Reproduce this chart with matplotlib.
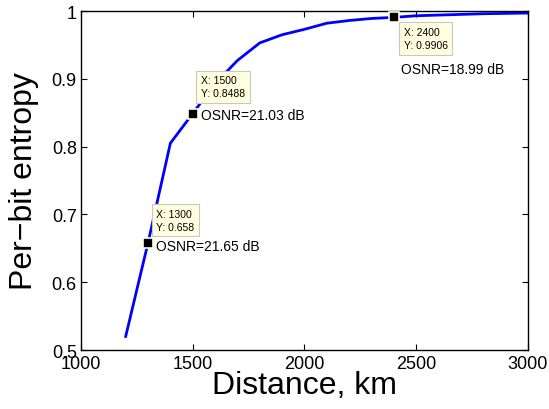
import matplotlib
matplotlib.use("Agg")
import matplotlib.pyplot as plt

distance_km = [1200, 1300, 1400, 1500, 1600, 1700, 1800, 1900, 2000, 2100,
               2200, 2300, 2400, 2500, 2600, 2700, 2800, 2900, 3000]
entropy = [0.520, 0.658, 0.805, 0.8488, 0.893, 0.927, 0.953, 0.965, 0.973, 0.982,
           0.986, 0.989, 0.9906, 0.993, 0.994, 0.995, 0.996, 0.9965, 0.997]

tip_x = [1300, 1500, 2400]
tip_y = [0.658, 0.8488, 0.9906]
tip_labels = ["X: 1300\nY: 0.658", "X: 1500\nY: 0.8488", "X: 2400\nY: 0.9906"]
osnr_labels = ["OSNR=21.65 dB", "OSNR=21.03 dB", "OSNR=18.99 dB"]

x_ticks = [1000, 1500, 2000, 2500, 3000]
y_ticks = [0.5, 0.6, 0.7, 0.8, 0.9, 1.0]
y_ticklabels = ["0.5", "0.6", "0.7", "0.8", "0.9", "1"]

plt.rcParams['font.family'] = ['Liberation Sans', 'DejaVu Sans']

fig = plt.figure(figsize=(5.49, 4.10), dpi=100)
ax = fig.add_axes([0.1475, 0.1439, 0.9617 - 0.1475, 0.9707 - 0.1439])

ax.plot(distance_km, entropy, color='#0000ff', lw=2.0, zorder=2)
ax.set_xlim(1000, 3000)
ax.set_ylim(0.5, 1.0)
ax.set_xticks(x_ticks)
ax.set_yticks(y_ticks)
ax.set_yticklabels(y_ticklabels)
ax.tick_params(direction='in', top=True, right=True, length=4, width=0.8,
               labelsize=13)
ax.tick_params(axis='x', pad=3.5)
ax.tick_params(axis='y', pad=3)
for s in ax.spines.values():
    s.set_linewidth(1.0)

ax.set_xlabel("Distance, km", fontsize=23, labelpad=-1)
ax.set_ylabel("Per\u2212bit entropy", fontsize=23, labelpad=9)

# data tip markers
ax.plot(tip_x, tip_y, linestyle='none', marker='s', markersize=6.5,
        markerfacecolor='black', markeredgecolor='#ffffe0', markeredgewidth=1.2,
        zorder=5)

# offsets in points (x, y) for datatip boxes
tip_offsets = [(6, 8), (6, 11), (7, -7)]
tip_va = ['bottom', 'bottom', 'top']
for x, y, lab, off, va in zip(tip_x, tip_y, tip_labels, tip_offsets, tip_va):
    ax.annotate(lab, xy=(x, y), xytext=off, textcoords='offset points',
                ha='left', va=va, fontsize=7.5, linespacing=1.35,
                bbox=dict(boxstyle='square,pad=0.45', fc='#ffffe0', ec='#c8c8c0', lw=0.8),
                zorder=6)

osnr_offsets = [(6, -2), (6, -1), (5, -37)]
for x, y, lab, off in zip(tip_x, tip_y, osnr_labels, osnr_offsets):
    ax.annotate(lab, xy=(x, y), xytext=off, textcoords='offset points',
                ha='left', va='center', fontsize=10, zorder=6)

fig.savefig("out.png", dpi=100)
